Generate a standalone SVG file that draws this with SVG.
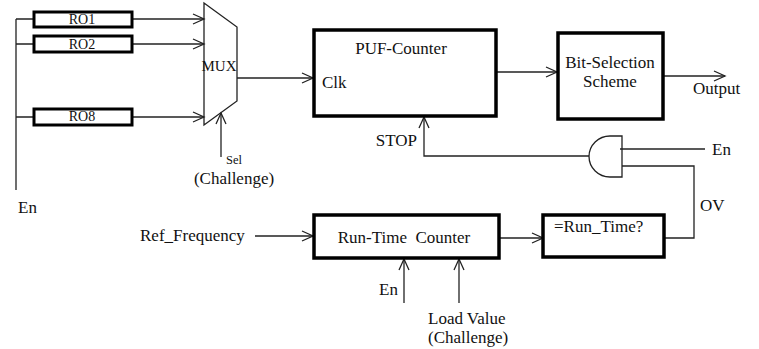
<svg xmlns="http://www.w3.org/2000/svg" width="759" height="349" viewBox="0 0 759 349">
<style>
text{font-family:"Liberation Serif","Times New Roman",serif;fill:#111;font-size:17px}
.box{fill:#fff;stroke:#000;stroke-width:3.5}
.ro{fill:#fff;stroke:#000;stroke-width:3}
.ln{fill:none;stroke:#222;stroke-width:1.3}
.arr{fill:none;stroke:#222;stroke-width:1.3;marker-end:url(#ah)}
.mid{text-anchor:middle}
</style>
<defs>
<marker id="ah" markerUnits="userSpaceOnUse" markerWidth="14" markerHeight="12" refX="11" refY="5" orient="auto" viewBox="-1 -1 14 12">
<path d="M0,0 L11,5 L0,10" fill="none" stroke="#222" stroke-width="1.3"/>
</marker>
</defs>
<g id="connectors">
<path class="ln" d="M16,19 V190 M16,19 H33 M16,44 H33 M16,117 H33"/>
<path class="arr" d="M132,19 H204"/>
<path class="arr" d="M132,44 H204"/>
<path class="arr" d="M132,117 H204"/>
<path class="arr" d="M221,157 V113"/>
<path class="arr" d="M237,78 H313"/>
<path class="arr" d="M496,72 H557"/>
<path class="arr" d="M663,76 H725"/>
<path class="arr" d="M589,156 H424 V117"/>
<path class="ln" d="M620,149 H705"/>
<path class="ln" d="M622,166 H694 V238 H664"/>
<path class="arr" d="M255,236 H313"/>
<path class="arr" d="M499,238 H543"/>
<path class="arr" d="M404,303 V259"/>
<path class="arr" d="M459,303 V259"/>
</g>
<g id="ro1"><rect class="ro" x="34" y="12" width="98" height="15"/><text x="82" y="24" class="mid" style="font-size:14px">RO1</text></g>
<g id="ro2"><rect class="ro" x="34" y="36" width="98" height="16"/><text x="82" y="49" class="mid" style="font-size:14px">RO2</text></g>
<g id="ro8"><rect class="ro" x="34" y="109" width="98" height="16"/><text x="82" y="121" class="mid" style="font-size:14px">RO8</text></g>
<g id="mux"><path class="ln" d="M204,3 L237,27 V101 L204,125 Z" fill="#fff"/><text x="219" y="71" class="mid" style="font-size:15px">MUX</text></g>
<g id="sel"><text x="234" y="164" class="mid" style="font-size:12.5px">Sel</text><text x="234" y="184" class="mid">(Challenge)</text></g>
<g id="en-left"><text x="18" y="213">En</text></g>
<g id="puf-counter"><rect class="box" x="314" y="30" width="182" height="86"/><text x="401" y="54" class="mid">PUF-Counter</text><text x="322" y="88">Clk</text></g>
<g id="bit-selection"><rect class="box" x="558" y="33" width="105" height="86"/><text x="610" y="68" class="mid">Bit-Selection</text><text x="610" y="87" class="mid">Scheme</text></g>
<g id="output"><text x="693" y="94">Output</text></g>
<g id="stop"><text x="417" y="146" text-anchor="end">STOP</text></g>
<g id="and-gate"><path class="ln" d="M622,136 H610 A21,20.5 0 0 0 610,177 H622 Z" fill="#fff"/></g>
<g id="en-right"><text x="712" y="155">En</text></g>
<g id="ov"><text x="700" y="211">OV</text></g>
<g id="run-time-counter"><rect class="box" x="314" y="215" width="185" height="43"/><text x="404" y="243" class="mid" style="white-space:pre">Run-Time  Counter</text></g>
<g id="compare"><rect class="box" x="543" y="215" width="121" height="42"/><text x="554" y="232">=Run_Time?</text></g>
<g id="ref-frequency"><text x="140" y="241">Ref_Frequency</text></g>
<g id="en-bottom"><text x="398" y="295" text-anchor="end">En</text></g>
<g id="load-value"><text x="428" y="324">Load Value</text><text x="428" y="343">(Challenge)</text></g>
</svg>
